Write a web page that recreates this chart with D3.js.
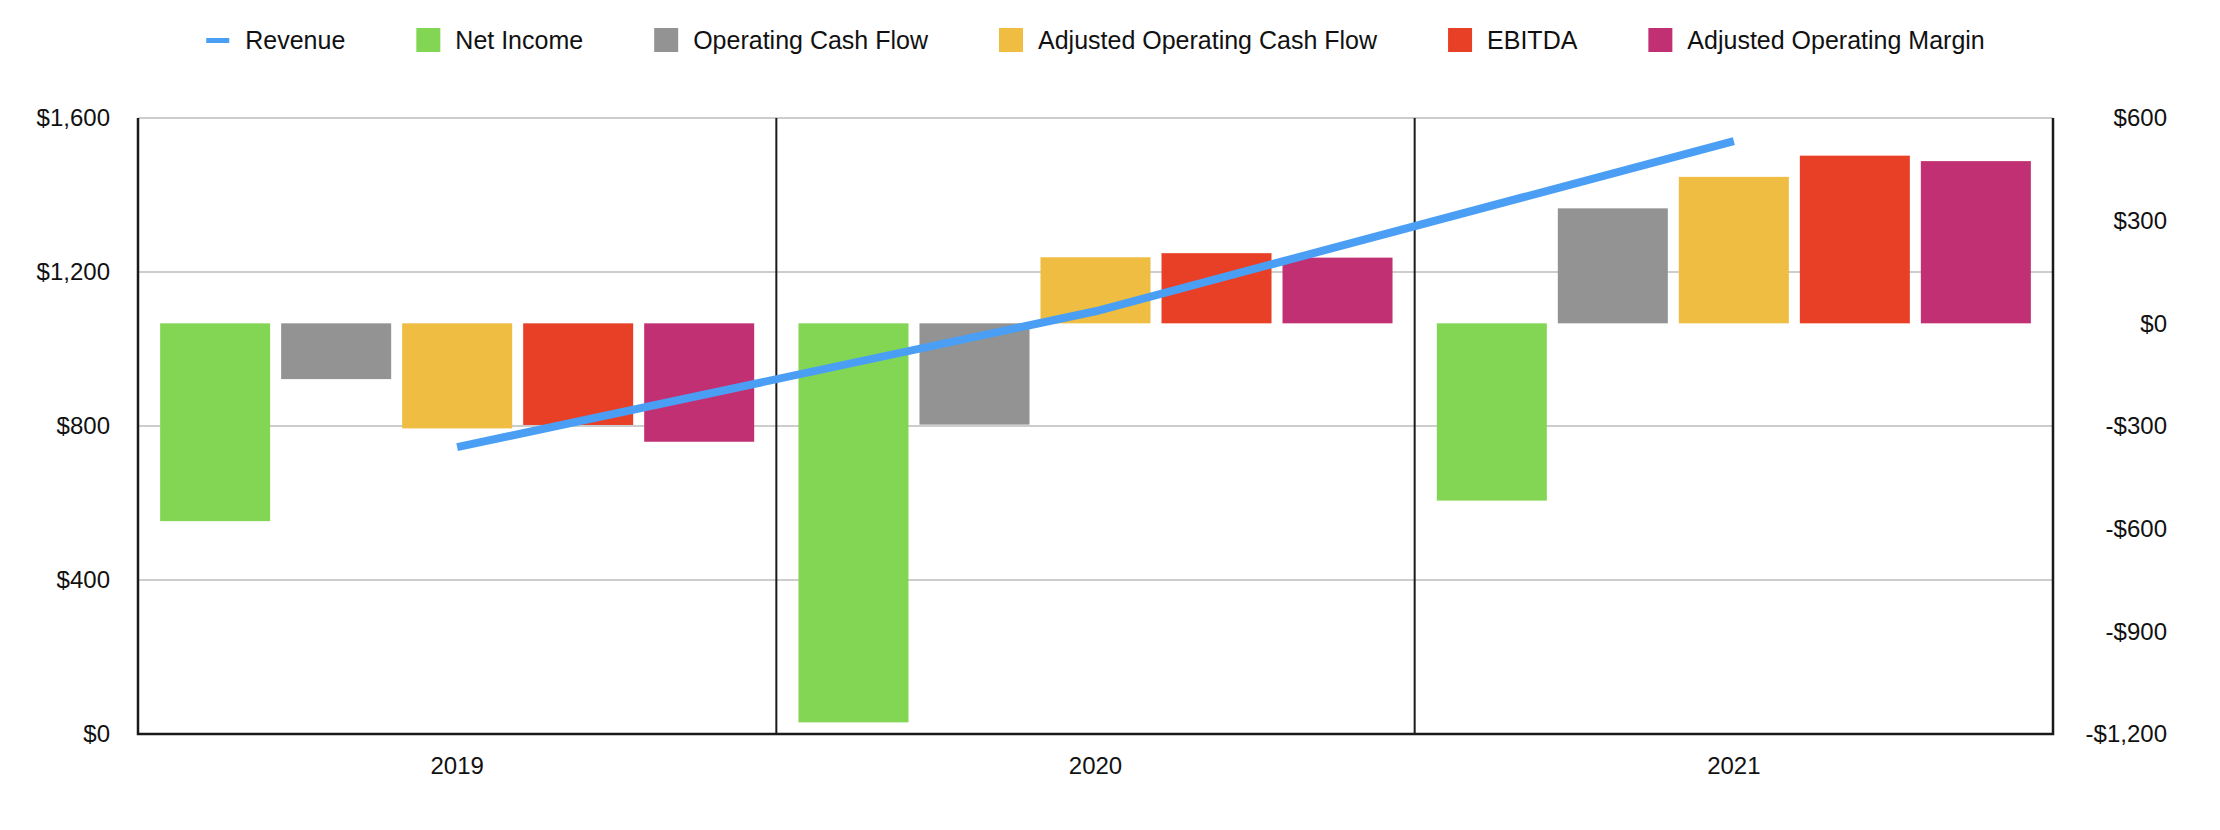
<!DOCTYPE html>
<html lang="en">
<head>
<meta charset="UTF-8">
<title>Revenue and cash flow</title>
<script src="https://cdn.jsdelivr.net/npm/d3@7"></script>
<style>
  * { margin: 0; padding: 0; }
  body { background: #fff; }
  text { font-family: "Liberation Sans", Arial, sans-serif; fill: #111; }
</style>
</head>
<body>
<div id="chart"></div>
<script>
// data
const years = ['2019', '2020', '2021'];
const revenue = [745, 1098, 1540];                // left axis, line
const netIncome = [-578, -1166, -518];             // right axis, bars
const operatingCashFlow = [-163, -296, 336];
const adjustedOperatingCashFlow = [-307, 193, 428];
const ebitda = [-297, 205, 490];
const adjustedOperatingMargin = [-346, 192, 474];
const leftTicks = [0, 400, 800, 1200, 1600];
const rightTicks = [-1200, -900, -600, -300, 0, 300, 600];

const barSeries = [
  { name: 'Net Income', values: netIncome, color: '#83d654' },
  { name: 'Operating Cash Flow', values: operatingCashFlow, color: '#939393' },
  { name: 'Adjusted Operating Cash Flow', values: adjustedOperatingCashFlow, color: '#eebd41' },
  { name: 'EBITDA', values: ebitda, color: '#e84026' },
  { name: 'Adjusted Operating Margin', values: adjustedOperatingMargin, color: '#c23074' }
];
const lineColor = '#4a9ff5';

const width = 2220, height = 830;
const margin = { top: 118, right: 167, bottom: 96, left: 138 };
const plotRight = width - margin.right;
const plotBottom = height - margin.bottom;

const svg = d3.select('#chart').append('svg')
  .attr('width', width)
  .attr('height', height);

// scales
const x0 = d3.scaleBand().domain(years).range([margin.left, plotRight]);
const x1 = d3.scaleBand().domain(barSeries.map(d => d.name))
  .range([0, x0.bandwidth()])
  .paddingInner(0.0909)
  .paddingOuter(0.183);
const yLeft = d3.scaleLinear().domain([0, 1600]).range([plotBottom, margin.top]);
const yRight = d3.scaleLinear().domain([-1200, 600]).range([plotBottom, margin.top]);

const money = d => (d < 0 ? '-$' : '$') + d3.format(',')(Math.abs(d));

// gridlines
svg.append('g').selectAll('line')
  .data(leftTicks.filter(d => d > 0))
  .join('line')
  .attr('x1', margin.left).attr('x2', plotRight)
  .attr('y1', d => yLeft(d)).attr('y2', d => yLeft(d))
  .attr('stroke', '#bdbdbd').attr('stroke-width', 1.5);

// bars
const groups = svg.append('g').selectAll('g')
  .data(years)
  .join('g')
  .attr('transform', d => `translate(${x0(d)},0)`);

groups.selectAll('rect')
  .data((year, i) => barSeries.map(s => ({ name: s.name, color: s.color, value: s.values[i] })))
  .join('rect')
  .attr('x', d => x1(d.name))
  .attr('width', x1.bandwidth())
  .attr('y', d => yRight(Math.max(0, d.value)))
  .attr('height', d => Math.abs(yRight(d.value) - yRight(0)))
  .attr('fill', d => d.color);

// group dividers and frame
svg.append('g').selectAll('line')
  .data(years.slice(1))
  .join('line')
  .attr('x1', d => x0(d)).attr('x2', d => x0(d))
  .attr('y1', margin.top).attr('y2', plotBottom)
  .attr('stroke', '#1a1a1a').attr('stroke-width', 2);

svg.append('path')
  .attr('d', `M${margin.left},${margin.top}V${plotBottom}H${plotRight}V${margin.top}`)
  .attr('fill', 'none')
  .attr('stroke', '#1a1a1a')
  .attr('stroke-width', 2.5);

// revenue line
const line = d3.line()
  .x((d, i) => x0(years[i]) + x0.bandwidth() / 2)
  .y(d => yLeft(d));

svg.append('path')
  .datum(revenue)
  .attr('d', line)
  .attr('fill', 'none')
  .attr('stroke', lineColor)
  .attr('stroke-width', 8)
  .attr('stroke-linecap', 'butt');

// axes
const leftAxis = svg.append('g')
  .attr('transform', `translate(${margin.left},0)`)
  .call(d3.axisLeft(yLeft).tickValues(leftTicks).tickFormat(money).tickSize(0).tickPadding(28));

const rightAxis = svg.append('g')
  .attr('transform', `translate(${plotRight},0)`)
  .call(d3.axisRight(yRight).tickValues(rightTicks).tickFormat(money).tickSize(0));
rightAxis.selectAll('text').attr('x', 114).attr('text-anchor', 'end');

const bottomAxis = svg.append('g')
  .attr('transform', `translate(0,${plotBottom})`)
  .call(d3.axisBottom(x0).tickSize(0).tickPadding(23));

[leftAxis, rightAxis, bottomAxis].forEach(g => {
  g.select('.domain').remove();
  g.selectAll('text')
    .attr('font-family', '"Liberation Sans", Arial, sans-serif')
    .attr('font-size', 24)
    .attr('fill', '#111');
});

// legend
const legendItems = [{ name: 'Revenue', color: lineColor, kind: 'line' }]
  .concat(barSeries.map(s => ({ name: s.name, color: s.color, kind: 'box' })));

const legend = svg.append('g');
let lx = 0;
legendItems.forEach(item => {
  const g = legend.append('g').attr('transform', `translate(${lx},0)`);
  if (item.kind === 'line') {
    g.append('rect').attr('x', 0).attr('y', 38).attr('width', 23).attr('height', 5).attr('fill', item.color);
  } else {
    g.append('rect').attr('x', 0).attr('y', 28).attr('width', 24).attr('height', 24).attr('fill', item.color);
  }
  const t = g.append('text')
    .attr('x', 39)
    .attr('y', 49)
    .attr('font-size', 25)
    .text(item.name);
  lx += 39 + t.node().getComputedTextLength() + 71;
});
const legendWidth = lx - 71;
legend.attr('transform', `translate(${(margin.left + plotRight) / 2 - legendWidth / 2},0)`);
</script>
</body>
</html>
